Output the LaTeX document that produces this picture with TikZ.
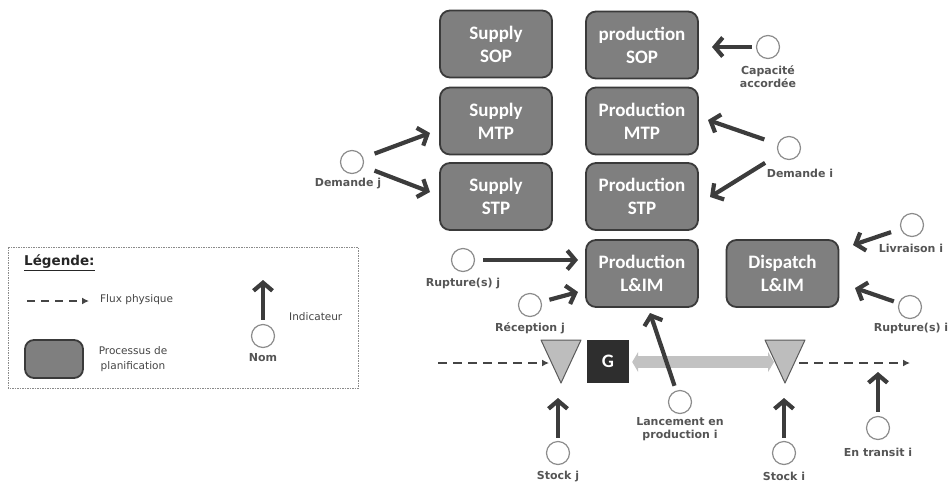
\documentclass[tikz,border=0pt]{standalone}
\usepackage{fontspec}
\setmainfont{DejaVu Sans}
\newfontfamily\boxfont{Carlito}
\usetikzlibrary{arrows.meta,calc}
\definecolor{boxfill}{HTML}{7F7F7F}
\definecolor{boxdraw}{HTML}{3A3A3A}
\definecolor{labelcol}{HTML}{555555}
\definecolor{arrowcol}{HTML}{3C3C3C}
\definecolor{circcol}{HTML}{8C8C8C}
\definecolor{trifill}{HTML}{BDBDBD}
\definecolor{tridraw}{HTML}{5A5A5A}
\definecolor{gfill}{HTML}{2E2E2E}
\definecolor{lightarr}{HTML}{C2C2C2}
\definecolor{fluxcol}{HTML}{454545}
\definecolor{legframe}{HTML}{8A8A8A}
\begin{document}
\begin{tikzpicture}[x=1pt,y=-1pt,
  proc/.style={draw=boxdraw, line width=1.8pt, fill=boxfill, rounded corners=10pt,
    minimum width=112pt, minimum height=67pt, inner sep=0pt, align=center,
    text=white, font=\boxfont\bfseries\fontsize{19}{23}\selectfont},
  ind/.style={draw=arrowcol, line width=4.2pt, -{Straight Barb[length=8pt,width=19pt]}},
  circ/.style={circle, draw=circcol, fill=white, line width=1.2pt, minimum size=23pt, inner sep=0pt},
  lbl/.style={text=labelcol, font=\bfseries\fontsize{11}{13}\selectfont, align=center, inner sep=0pt},
  legtxt/.style={text=labelcol!80!black, font=\fontsize{10.5}{15}\selectfont, align=center, inner sep=0pt},
  flux/.style={draw=fluxcol, line width=2pt, dash pattern=on 9pt off 6pt, -{Latex[length=7pt,width=7pt]}},
  tri/.style={draw=tridraw, fill=trifill, line width=1pt, line join=round}
]
\useasboundingbox (0,0) rectangle (951,483);

% ---------- process boxes ----------
\node[proc] (ssop) at (496,44) {Supply\\SOP};
\node[proc] (psop) at (642,45) {production\\SOP};
\node[proc] (smtp) at (496,121) {Supply\\MTP};
\node[proc] (pmtp) at (642,121) {Production\\MTP};
\node[proc] (sstp) at (496,196.5) {Supply\\STP};
\node[proc] (pstp) at (642,196.5) {Production\\STP};
\node[proc] (plim) at (642,273.5) {Production\\L\&IM};
\node[proc] (dlim) at (782.5,273.5) {Dispatch\\L\&IM};

% ---------- physical flow ----------
\coordinate (ltA) at (541,340); \coordinate (ltB) at (581,340); \coordinate (ltC) at (561,383);
\coordinate (rtA) at (765,340); \coordinate (rtB) at (805,340); \coordinate (rtC) at (785,383);
\draw[tri] (ltA) -- (ltB) -- (ltC) -- cycle;
\draw[tri] (rtA) -- (rtB) -- (rtC) -- cycle;
\node[fill=gfill, minimum width=42pt, minimum height=43pt, inner sep=0pt, text=white,
  font=\boxfont\bfseries\fontsize{19}{23}\selectfont] (gbox) at (608,361.5) {G};

\coordinate (fl0) at (438,363); \coordinate (fl1) at (549,363);
\coordinate (fr0) at (799,363); \coordinate (fr1) at (910,363);
\draw[flux] (fl0) -- (fl1);
\draw[flux] (fr0) -- (fr1);
\coordinate (gaR) at (774,362);
\draw[draw=lightarr, line width=12pt,
  {Triangle[length=6pt,width=20pt]}-{Triangle[length=6pt,width=20pt]},
  shorten <=3pt] (gbox.east |- gaR) -- (gaR);

% ---------- indicators ----------
\node[circ] (cap) at (768,47) {};
\node[lbl] at (768,77) {Capacité\\accordée};
\coordinate (tcap) at (712,47);
\draw[ind, shorten <=4pt] (cap) -- (tcap);

\node[circ] (di) at (789,148) {};
\node[lbl] at (800,173) {Demande i};
\coordinate (tdi1) at (708,120); \coordinate (tdi2) at (710,197);
\draw[ind, shorten <=14pt] (di) -- (tdi1);
\draw[ind, shorten <=16pt] (di) -- (tdi2);

\node[circ] (dj) at (352,162) {};
\node[lbl] at (348,184) {Demande j};
\coordinate (tdj1) at (430,133); \coordinate (tdj2) at (430,192);
\draw[ind, shorten <=12pt] (dj) -- (tdj1);
\draw[ind, shorten <=12pt] (dj) -- (tdj2);

\node[circ] (liv) at (912,225) {};
\node[lbl] at (911,248) {Livraison i};
\coordinate (tliv) at (853,245);
\draw[ind, shorten <=10pt] (liv) -- (tliv);

\node[circ] (rupi) at (910,307) {};
\node[lbl] at (911,328) {Rupture(s) i};
\coordinate (trupi) at (855,288);
\draw[ind, shorten <=5pt] (rupi) -- (trupi);

\node[circ] (rupj) at (463,260) {};
\node[lbl] at (463,284) {Rupture(s) j};
\coordinate (trupj) at (578,260);
\draw[ind, shorten <=8pt] (rupj) -- (trupj);

\node[circ] (recj) at (530,305) {};
\node[lbl] at (530,328) {Réception j};
\coordinate (trecj) at (578,292);
\draw[ind, shorten <=8pt] (recj) -- (trecj);

\node[circ] (lanc) at (680,402) {};
\node[lbl] at (680,429.5) {Lancement en\\production i};
\coordinate (tlanc) at (650,313);
\draw[ind, shorten <=5pt] (lanc) -- (tlanc);

\node[circ] (stj) at (558,453) {};
\node[lbl] at (558,476) {Stock j};
\coordinate (tstj) at (558,398);
\draw[ind, shorten <=3pt] (stj) -- (tstj);

\node[circ] (sti) at (784,453) {};
\node[lbl] at (784,476) {Stock i};
\coordinate (tsti) at (784,398);
\draw[ind, shorten <=3pt] (sti) -- (tsti);

\node[circ] (tra) at (878,428) {};
\node[lbl] at (878,452) {En transit i};
\coordinate (ttra) at (878,372);
\draw[ind, shorten <=4pt] (tra) -- (ttra);

% ---------- legend ----------
\coordinate (lg0) at (8,247); \coordinate (lg1) at (358,388);
\draw[legframe, line width=1pt, dash pattern=on 1.5pt off 1pt] (lg0) rectangle (lg1);
\node[anchor=west, inner sep=0pt, text=black!85, font=\bfseries\fontsize{13.5}{16}\selectfont] (legt) at (24,263) {\underline{Légende:}};
\coordinate (lf0) at (27,301); \coordinate (lf1) at (89,301);
\draw[flux, dash pattern=on 8pt off 6pt] (lf0) -- (lf1);
\node[legtxt, anchor=west] (lflux) at (100,300) {Flux physique};
\node[proc, minimum width=58pt, minimum height=38pt, rounded corners=9pt] (lproc) at (54,359) {};
\node[legtxt] (lproct) at (133,359.5) {Processus de\\planification};
\node[circ] (lnom) at (263,336) {};
\node[lbl] at (263,358) {Nom};
\coordinate (tlnom) at (263,280);
\draw[ind, shorten <=4pt] (lnom) -- (tlnom);
\node[legtxt, anchor=west] (lind) at (289,317) {Indicateur};
\end{tikzpicture}
\end{document}
